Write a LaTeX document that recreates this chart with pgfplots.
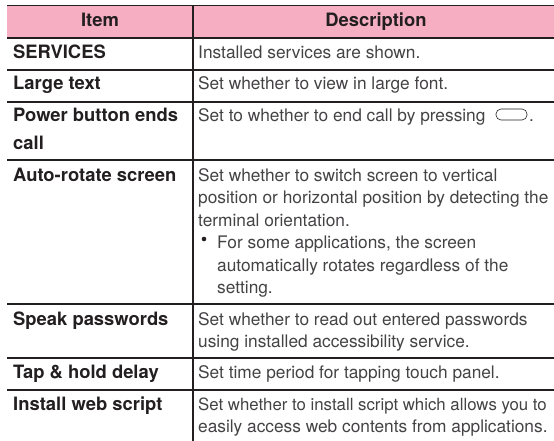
\documentclass[border=0pt]{standalone}
\usepackage{pgfplots}
\pgfplotsset{compat=1.18}
\usepackage{fontspec}
\setmainfont{TeX Gyre Heros}
\definecolor{hdr}{HTML}{F5AEC2}
\definecolor{ink}{HTML}{231F20}
\definecolor{desc}{HTML}{444244}
\newcommand{\B}[3]{\node[anchor=base west,inner sep=0pt,text=ink] at (axis cs:#1,#2) {\fontsize{18.4}{18.4}\selectfont\bfseries #3};}
\newcommand{\D}[3]{\node[anchor=base west,inner sep=0pt,text=desc] at (axis cs:#1,#2) {\fontsize{17.3}{17.3}\selectfont #3};}
\begin{document}
\begin{tikzpicture}
\path[use as bounding box] (0,0) rectangle (554pt,441pt);
\begin{axis}[at={(0,0)},anchor=south west,scale only axis,width=554pt,height=441pt,
  xmin=0,xmax=554,ymin=0,ymax=441,y dir=reverse,axis lines=none,clip=false]
\addplot[draw=none,fill=hdr,forget plot] coordinates {(7,5.5) (554,5.5) (554,38) (7,38)} -- cycle;
\addplot[ink,line width=1.7pt,forget plot] coordinates {(7,5.5) (554,5.5)};
\addplot[ink,line width=1.7pt,forget plot] coordinates {(7,38) (554,38)};
\addplot[ink,line width=1.7pt,forget plot] coordinates {(7,70) (554,70)};
\addplot[ink,line width=1.7pt,forget plot] coordinates {(7,102) (554,102)};
\addplot[ink,line width=1.7pt,forget plot] coordinates {(7,160) (554,160)};
\addplot[ink,line width=1.7pt,forget plot] coordinates {(7,304) (554,304)};
\addplot[ink,line width=1.7pt,forget plot] coordinates {(7,358) (554,358)};
\addplot[ink,line width=1.7pt,forget plot] coordinates {(7,390) (554,390)};
\addplot[ink,line width=1.7pt,forget plot] coordinates {(193,5.5) (193,441)};
\node[anchor=base,inner sep=0pt,text=ink] at (axis cs:100,26.5) {\fontsize{18.4}{18.4}\selectfont\bfseries Item};
\node[anchor=base,inner sep=0pt,text=ink] at (axis cs:376,26.5) {\fontsize{18.4}{18.4}\selectfont\bfseries Description};
\B{13}{58.5}{SERVICES}
\B{13}{89.5}{Large text}
\B{13}{122}{Power button ends}
\B{13}{149.5}{call}
\B{13}{181.5}{Auto-rotate screen}
\B{13}{325}{Speak passwords}
\B{13}{378}{Tap \& hold delay}
\B{13}{410}{Install web script}
\D{198}{58.5}{Installed services are shown.}
\D{198}{89.5}{Set whether to view in large font.}
\D{198}{121.5}{Set to whether to end call by pressing}
\draw[ink,line width=0.6pt,rounded corners=5pt] (axis cs:496,109) rectangle (axis cs:527,120);
\D{529}{121.5}{.}
\D{198}{181.5}{Set whether to switch screen to vertical}
\D{198}{203.5}{position or horizontal position by detecting the}
\D{198}{226}{terminal orientation.}
\fill[ink] (axis cs:204,239) circle (2.3pt);
\D{217}{248.5}{For some applications, the screen}
\D{217}{271}{automatically rotates regardless of the}
\D{217}{293.5}{setting.}
\D{198}{325}{Set whether to read out entered passwords}
\D{198}{347}{using installed accessibility service.}
\D{198}{378}{Set time period for tapping touch panel.}
\node[anchor=base west,inner sep=0pt,text=desc] at (axis cs:198,410) {\fontsize{16.8}{16.8}\selectfont Set whether to install script which allows you to};
\D{198}{432.5}{easily access web contents from applications.}
\end{axis}
\end{tikzpicture}
\end{document}
